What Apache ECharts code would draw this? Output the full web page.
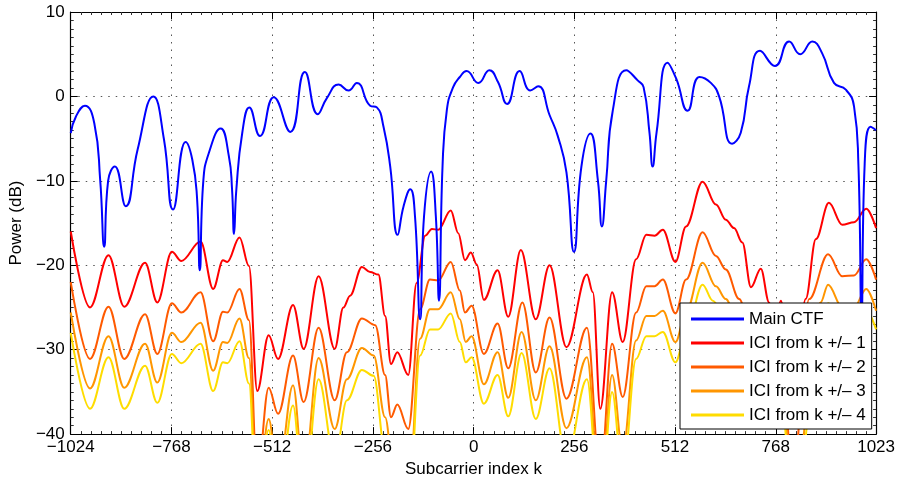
<!DOCTYPE html>
<html>
<head>
<meta charset="utf-8">
<title>CTF and ICI</title>
<script src="https://cdn.jsdelivr.net/npm/echarts@6.0.0/dist/echarts.min.js"></script>
<style>
  html, body { margin: 0; padding: 0; background: #fff; }
  #chart { width: 898px; height: 483px; }
</style>
</head>
<body>
<div id="chart"></div>
<script>
// values: [subcarrier k, power dB]
var mainCtf = [
  [-1024,-4.35],[-1011,-2.4],[-988,-1.1],[-964,-3.2],[-949,-10],[-939,-17.8],[-929,-10],[-912,-8.3],
  [-884,-13.0],[-854,-6.3],[-814,0],[-787,-5.1],[-764,-13.4],[-732,-5.4],[-715,-7.5],[-703,-12],
  [-696,-20.6],[-687,-10],[-673,-6.7],[-643,-3.8],[-622,-7.1],[-614,-11],[-609,-16.3],[-603,-11],
  [-588,-4.3],[-570,-1.3],[-543,-4.7],[-508,-0.1],[-466,-4.2],[-429,2.9],[-396,-2.1],[-373,-0.2],
  [-343,1.4],[-318,0.7],[-297,1.6],[-263,-1.1],[-246,-1.3],[-229,-3.6],[-212,-8.3],[-193,-16.4],
  [-178,-13.0],[-161,-11.0],[-149,-14.2],[-136,-26.4],[-126,-14.2],[-108,-8.9],[-96,-14.2],[-88,-24.2],
  [-79,-8.3],[-68,-1.6],[-52,1.1],[-35,2.3],[-18,3.0],[12,1.6],[40,3.1],[62,1.7],[85,-0.9],[117,3.0],
  [144,0.7],[164,1.2],[193,-2.2],[214,-4.7],[236,-9],[255,-18.4],[274,-8.3],[297,-4.4],[316,-10],
  [326,-15.4],[337,-10],[354,-1.6],[388,3.1],[417,1.9],[432,1.1],[447,-4.3],[455,-8.3],[465,-4.3],
  [493,4.0],[515,2.1],[544,-1.7],[574,2.3],[603,1.6],[624,0],[657,-5.6],[679,-4.3],[700,1.2],
  [728,5.4],[766,3.6],[802,6.5],[830,5.0],[861,6.5],[886,5.1],[916,1.6],[946,0.8],[967,-1.2],
  [978,-8],[986,-26],[994,-8],[1009,-3.6],[1023,-4.0]
];
var ici1 = [
  [-1024,-16.0],[-975,-25.0],[-928,-18.8],[-888,-24.9],[-835,-19.7],[-804,-24.4],[-767,-18.4],[-743,-19.5],
  [-694,-17.2],[-662,-22.8],[-637,-19.4],[-626,-19.6],[-595,-16.7],[-571,-20.1],[-550,-34.9],[-521,-28.3],
  [-497,-31.1],[-459,-24.7],[-432,-29.9],[-394,-21.3],[-353,-29.9],[-331,-25.0],[-314,-23.6],[-284,-20.2],
  [-263,-20.8],[-242,-21.1],[-225,-26.0],[-210,-31.7],[-194,-30.3],[-166,-33.0],[-145,-22.1],[-123,-16.5],
  [-106,-15.7],[-90,-15.8],[-58,-13.5],[-39,-16.2],[-22,-19.4],[-7,-18.5],[8,-19.9],[26,-24.1],[61,-20.6],
  [88,-26.1],[120,-18.2],[158,-26.4],[193,-20.0],[236,-29.7],[288,-21.1],[303,-23.2],[322,-37.0],[352,-23.2],
  [379,-29.1],[413,-19.3],[439,-16.4],[460,-16.5],[481,-15.8],[513,-19.6],[540,-15.4],[582,-10.1],
  [616,-12.8],[641,-14.6],[662,-15.6],[683,-17.3],[705,-22.6],[730,-20.4],[751,-24.4],[765,-27],
  [781,-24.2],[812,-38],[844,-24.0],[870,-16.9],[903,-12.6],[937,-15.2],[967,-14.9],[998,-13.3],[1023,-15.6]
];
var ici2 = [
  [-1024,-22.0],[-975,-31.1],[-928,-24.9],[-888,-31.1],[-835,-25.8],[-804,-30.5],[-767,-24.5],[-743,-25.6],
  [-694,-23.2],[-662,-29.0],[-637,-25.5],[-626,-25.6],[-595,-22.8],[-571,-26.5],[-550,-45],[-521,-34.5],
  [-497,-37.6],[-459,-30.7],[-432,-36.2],[-394,-27.4],[-353,-36.0],[-322,-30.3],[-284,-26.3],[-250,-27.1],
  [-225,-33],[-210,-38],[-194,-36.5],[-166,-39.4],[-136,-25.2],[-111,-21.7],[-90,-21.8],[-58,-19.6],
  [-35,-23.0],[-22,-25.6],[-5,-24.8],[26,-30.5],[61,-26.9],[88,-32.2],[124,-24.4],[158,-32.7],[193,-26.2],
  [236,-35.8],[288,-27.4],[322,-45],[352,-29.3],[379,-35.6],[413,-25.6],[439,-22.5],[460,-22.5],[481,-21.7],
  [513,-25.7],[540,-21.7],[582,-16.1],[616,-18.9],[641,-20.5],[675,-24.0],[705,-28],[730,-26],[751,-30],
  [765,-33],[781,-30],[812,-45],[853,-24.0],[901,-18.7],[937,-21.3],[967,-21.2],[998,-19.3],[1023,-21.7]
];
var ici3 = [
  [-1024,-25.6],[-975,-34.6],[-928,-28.4],[-888,-34.5],[-835,-29.3],[-804,-33.9],[-767,-28.0],[-743,-29.1],
  [-694,-26.8],[-662,-32.5],[-637,-29.1],[-626,-29.2],[-595,-26.3],[-571,-31],[-550,-48],[-521,-38.2],
  [-497,-45],[-459,-34.2],[-432,-45],[-394,-31.0],[-353,-39.4],[-322,-33.5],[-284,-29.8],[-254,-30.7],
  [-225,-38],[-200,-46],[-166,-48],[-136,-28.7],[-111,-25.2],[-90,-25.2],[-58,-23.2],[-35,-26.4],
  [-20,-29.1],[-5,-28.4],[26,-34.1],[61,-30.3],[88,-35.7],[122,-27.9],[158,-36.0],[193,-29.6],[236,-39.3],
  [288,-30.9],[322,-48],[352,-33.0],[379,-42],[413,-28.9],[439,-26.0],[460,-26.0],[481,-25.4],[513,-29.1],
  [540,-25.5],[582,-19.7],[616,-22.5],[641,-24.0],[675,-27.5],[705,-31],[730,-29.5],[751,-33],[765,-36],
  [781,-33],[812,-48],[882,-24.4],[901,-22.3],[937,-25],[967,-25],[998,-22.8],[1023,-25.4]
];
var ici4 = [
  [-1024,-28.0],[-975,-37.0],[-928,-30.9],[-888,-37.0],[-835,-31.9],[-804,-36.3],[-767,-30.5],[-743,-31.6],
  [-694,-29.3],[-662,-34.9],[-637,-31.5],[-626,-31.6],[-595,-29.0],[-571,-34],[-550,-50],[-521,-39.5],
  [-497,-48],[-459,-36.6],[-432,-48],[-394,-33.5],[-353,-43],[-322,-36],[-284,-32.4],[-254,-33.1],
  [-225,-42],[-200,-48],[-166,-50],[-136,-30.7],[-111,-27.6],[-90,-27.6],[-58,-25.7],[-35,-29.1],
  [-20,-31.5],[-5,-30.9],[26,-36.4],[61,-33.0],[88,-37.9],[122,-30.4],[158,-38.2],[193,-32.2],[236,-43],
  [288,-33.5],[322,-50],[352,-35.0],[379,-45],[413,-31.1],[439,-28.4],[460,-28.4],[481,-27.9],[513,-31.5],
  [540,-28],[582,-22.3],[608,-24.2],[641,-26.5],[675,-30],[705,-33],[730,-31.5],[751,-35],[765,-38],
  [781,-35],[812,-50],[882,-28],[901,-24.5],[937,-27.5],[967,-27.5],[998,-25.4],[1023,-27.6]
];
var names = ['Main CTF', 'ICI from k +/\u2013 1', 'ICI from k +/\u2013 2', 'ICI from k +/\u2013 3', 'ICI from k +/\u2013 4'];
var colors = ['#0000ff', '#ff0000', '#ff5a00', '#ff9600', '#ffdc00'];

var FONT = '"Liberation Sans", Arial, Helvetica, sans-serif';
var chart = echarts.init(document.getElementById('chart'), null, {renderer: 'canvas'});

function minus(v) { return String(v).replace('-', '\u2212'); }

// ICI curves are wavy, monotone-x smoothing keeps them sine like;
// the main CTF has narrow notches, plain smoothing suits it better
function lineSeries(name, data, color, smooth, mono) {
  return {
    name: name, type: 'line', data: data,
    smooth: smooth, smoothMonotone: mono ? 'x' : undefined,
    symbol: 'none', showSymbol: false, clip: true,
    lineStyle: {color: color, width: 2}, itemStyle: {color: color},
    emphasis: {disabled: true}
  };
}

var boxAxis = {
  axisLine: {show: true, onZero: false, lineStyle: {color: '#000', width: 1.2}},
  axisTick: {show: true, inside: true, length: 7, lineStyle: {color: '#000'}},
  minorTick: {show: true, splitNumber: 10, length: 3, lineStyle: {color: '#333'}},
  axisLabel: {show: false},
  splitLine: {show: false}
};

var option = {
  animation: false,
  backgroundColor: '#fff',
  grid: {left: 70, top: 12, width: 807, height: 423, containLabel: false},
  xAxis: [
    {
      type: 'value', min: -1024, max: 1023, interval: 256, position: 'bottom',
      name: 'Subcarrier index k', nameLocation: 'middle', nameGap: 25,
      nameTextStyle: {fontFamily: FONT, fontSize: 17, color: '#000'},
      axisLine: {show: true, onZero: false, lineStyle: {color: '#000', width: 1.2}},
      axisTick: {show: true, inside: true, length: 7, lineStyle: {color: '#000'}},
      minorTick: {show: true, splitNumber: 10, length: 3, lineStyle: {color: '#333'}},
      axisLabel: {fontFamily: FONT, fontSize: 17, color: '#000', margin: 5, formatter: minus,
                  showMinLabel: true, showMaxLabel: true},
      splitLine: {show: true, lineStyle: {color: '#555', width: 1, type: [1.5, 6]}}
    },
    Object.assign({type: 'value', min: -1024, max: 1023, interval: 256, position: 'top'}, boxAxis)
  ],
  yAxis: [
    {
      type: 'value', min: -40, max: 10, interval: 10, position: 'left',
      name: 'Power (dB)', nameLocation: 'middle', nameGap: 42,
      nameTextStyle: {fontFamily: FONT, fontSize: 17, color: '#000'},
      axisLine: {show: true, onZero: false, lineStyle: {color: '#000', width: 1.2}},
      axisTick: {show: true, inside: true, length: 7, lineStyle: {color: '#000'}},
      minorTick: {show: true, splitNumber: 10, length: 3, lineStyle: {color: '#333'}},
      axisLabel: {fontFamily: FONT, fontSize: 17, color: '#000', margin: 6, formatter: minus},
      splitLine: {show: true, lineStyle: {color: '#555', width: 1, type: [1.5, 6]}}
    },
    Object.assign({type: 'value', min: -40, max: 10, interval: 10, position: 'right'}, boxAxis)
  ],
  legend: {
    data: names,
    orient: 'vertical', left: 680, top: 303,
    backgroundColor: '#fff', borderColor: '#000', borderWidth: 1,
    padding: [6, 6, 4, 11],
    icon: 'rect', itemWidth: 53, itemHeight: 3, itemGap: 4, itemTextGap: 6,
    textStyle: {fontFamily: FONT, fontSize: 17, color: '#000', lineHeight: 20},
    selectedMode: false
  },
  series: [
    lineSeries(names[1], ici1, colors[1], 0.36, true),
    lineSeries(names[2], ici2, colors[2], 0.36, true),
    lineSeries(names[3], ici3, colors[3], 0.36, true),
    lineSeries(names[4], ici4, colors[4], 0.36, true),
    lineSeries(names[0], mainCtf, colors[0], 0.5, false)
  ]
};

chart.setOption(option);
</script>
</body>
</html>
